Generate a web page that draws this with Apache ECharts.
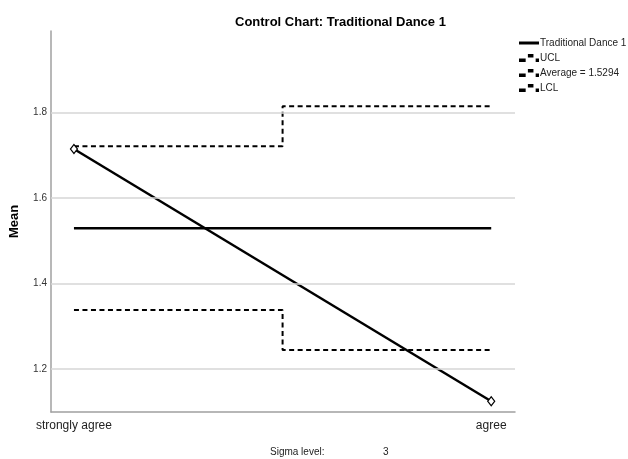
<!DOCTYPE html>
<html>
<head>
<meta charset="utf-8">
<script src="https://cdn.jsdelivr.net/npm/echarts@6/dist/echarts.min.js"></script>
<style>
  html, body { margin: 0; padding: 0; background: #fff; }
  #chart { width: 628px; height: 459px; }
</style>
</head>
<body>
<div id="chart"></div>
<script>
const categories = ['strongly agree', 'agree']
const meanValues = [1.7143, 1.1250]
const uclValues = [1.721, 1.814]
const lclValues = [1.338, 1.245]
const average = 1.5294
const gridValues = [1.2, 1.4, 1.6, 1.8]
const sigmaLevel = 3

const font = 'Liberation Sans, Arial, sans-serif'
const toPairs = arr => arr.map((v, i) => [i, v])
const avgName = 'Average = ' + average.toFixed(4)

// legend glyphs, roughly like the SPSS ones
const solidIcon = 'path://M0,3H20V6H0Z'
const dashIcon = 'path://M0,5H6V8H0Z M8,1H13V4H8Z M15,5H18V8H15Z'

const chart = echarts.init(document.getElementById('chart'))
chart.setOption({
  animation: false,
  textStyle: { fontFamily: font },
  title: {
    text: 'Control Chart: Traditional Dance 1',
    left: 230,
    top: 11,
    textStyle: { fontSize: 13, fontWeight: 'bold', color: '#000', fontFamily: font }
  },
  legend: {
    data: [
      { name: 'Traditional Dance 1', icon: solidIcon },
      { name: 'UCL', icon: dashIcon },
      { name: avgName, icon: dashIcon },
      { name: 'LCL', icon: dashIcon }
    ],
    orient: 'vertical',
    left: 514,
    top: 33,
    itemWidth: 20,
    itemHeight: 8,
    itemGap: 5,
    itemStyle: { color: '#000', borderWidth: 0 },
    lineStyle: { width: 0 },
    textStyle: { fontSize: 10, color: '#222', fontFamily: font, padding: [0, 0, 0, -4] }
  },
  grid: { left: 49, right: 113, top: 31, bottom: 47 },
  xAxis: {
    type: 'value',
    min: -0.055,
    max: 1.057,
    splitLine: { show: false },
    axisTick: { show: false },
    axisLine: { onZero: false, lineStyle: { color: '#a0a0a0', width: 1.5 } },
    axisLabel: {
      customValues: [0, 1],
      margin: 8,
      fontSize: 12,
      color: '#222',
      formatter: v => categories[Math.round(v)]
    }
  },
  yAxis: {
    type: 'value',
    min: 1.1,
    max: 1.99,
    interval: 0.1,
    name: 'Mean',
    nameLocation: 'middle',
    nameGap: 30,
    nameTextStyle: { fontSize: 13, fontWeight: 'bold', color: '#000' },
    splitLine: { show: false },
    axisTick: { show: false },
    axisLine: { show: true, onZero: false, lineStyle: { color: '#a0a0a0', width: 1.5 } },
    axisLabel: {
      fontSize: 10,
      color: '#333',
      margin: 4,
      showMaxLabel: false,
      formatter: v => Math.abs(v * 5 - Math.round(v * 5)) < 1e-6 ? v.toFixed(1) : ''
    }
  },
  graphic: [
    { type: 'text', left: 270, top: 447, style: { text: 'Sigma level:', fontSize: 10, fill: '#222', fontFamily: font } },
    { type: 'text', left: 383, top: 447, style: { text: String(sigmaLevel), fontSize: 10, fill: '#222', fontFamily: font } }
  ],
  series: [
    {
      name: 'grid',
      type: 'line',
      data: [],
      silent: true,
      markLine: {
        silent: true,
        symbol: 'none',
        label: { show: false },
        lineStyle: { color: '#d6d6d6', width: 1.5, type: 'solid' },
        data: gridValues.map(v => ({ yAxis: v }))
      }
    },
    {
      name: 'UCL',
      type: 'line',
      step: 'middle',
      data: toPairs(uclValues),
      symbol: 'none',
      lineStyle: { color: '#000', width: 2, type: [5, 3.5] },
      itemStyle: { color: '#000' }
    },
    {
      name: avgName,
      type: 'line',
      data: [[0, average], [1, average]],
      symbol: 'none',
      lineStyle: { color: '#000', width: 2.5 },
      itemStyle: { color: '#000' }
    },
    {
      name: 'LCL',
      type: 'line',
      step: 'middle',
      data: toPairs(lclValues),
      symbol: 'none',
      lineStyle: { color: '#000', width: 2, type: [5, 3.5] },
      itemStyle: { color: '#000' }
    },
    {
      name: 'Traditional Dance 1',
      type: 'line',
      data: toPairs(meanValues),
      symbol: 'diamond',
      symbolSize: [7, 9],
      lineStyle: { color: '#000', width: 2.5 },
      itemStyle: { color: '#fff', borderColor: '#000', borderWidth: 1.2 }
    }
  ]
})
</script>
</body>
</html>
